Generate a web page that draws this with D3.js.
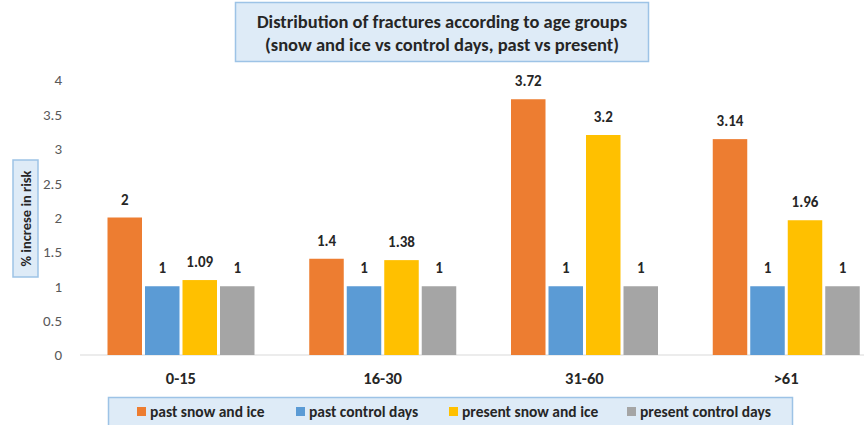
<!DOCTYPE html>
<html>
<head>
<meta charset="utf-8">
<script src="https://cdn.jsdelivr.net/npm/d3@7"></script>
<style>
  body { margin: 0; background: #fff; }
  svg { display: block; font-family: Carlito, Lato, "Open Sans", sans-serif; }
</style>
</head>
<body>
<script>
// data
const ageGroups = ["0-15", "16-30", "31-60", ">61"];
const seriesNames = ["past snow and ice", "past control days", "present snow and ice", "present control days"];
const pastSnowIce = [2, 1.4, 3.72, 3.14];
const pastControl = [1, 1, 1, 1];
const presentSnowIce = [1.09, 1.38, 3.2, 1.96];
const presentControl = [1, 1, 1, 1];
const yTicks = [0, 0.5, 1, 1.5, 2, 2.5, 3, 3.5, 4];
const colors = ["#ED7D31", "#5B9BD5", "#FFC000", "#A5A5A5"];

const allSeries = [pastSnowIce, pastControl, presentSnowIce, presentControl];

const width = 864, height = 425;
const svg = d3.select("body").append("svg")
  .attr("width", width).attr("height", height);

// scales
const x0 = d3.scaleBand().domain(ageGroups).range([80, 887]).paddingInner(0).paddingOuter(0);
const x1 = d3.scaleBand().domain(d3.range(4)).range([27.5, 174.5]).paddingInner(0.08);
const y = d3.scaleLinear().domain([0, 4]).range([355, 80]);

// y tick labels
svg.append("g").selectAll("text").data(yTicks).enter().append("text")
  .attr("x", 62).attr("y", d => y(d)).attr("dy", "0.36em")
  .attr("text-anchor", "end").attr("font-size", 15).attr("fill", "#595959")
  .text(d => d);

// baseline
svg.append("line")
  .attr("x1", 80).attr("x2", 887).attr("y1", y(0)).attr("y2", y(0))
  .attr("stroke", "#D9D9D9").attr("stroke-width", 1);

// bars
const groups = svg.append("g").selectAll("g").data(ageGroups).enter().append("g")
  .attr("transform", d => "translate(" + x0(d) + ",0)");

groups.selectAll("rect").data((d, i) => allSeries.map((s, k) => ({ k: k, v: s[i] })))
  .enter().append("rect")
  .attr("x", d => x1(d.k)).attr("width", x1.bandwidth())
  .attr("y", d => y(d.v)).attr("height", d => y(0) - y(d.v))
  .attr("fill", d => colors[d.k]);

groups.selectAll("text.val").data((d, i) => allSeries.map((s, k) => ({ k: k, v: s[i] })))
  .enter().append("text").attr("class", "val")
  .attr("x", d => x1(d.k) + x1.bandwidth() / 2).attr("y", d => y(d.v) - 13)
  .attr("text-anchor", "middle").attr("font-size", 15).attr("font-weight", "bold")
  .attr("fill", "#262626").text(d => d.v);

// category labels
svg.append("g").selectAll("text").data(ageGroups).enter().append("text")
  .attr("x", d => x0(d) + x0.bandwidth() / 2).attr("y", 384)
  .attr("text-anchor", "middle").attr("font-size", 16.5).attr("font-weight", "bold")
  .attr("fill", "#262626").text(d => d);

// title
svg.append("rect").attr("x", 235.5).attr("y", 2.5).attr("width", 413).attr("height", 59)
  .attr("fill", "#DEEBF7").attr("stroke", "#9DC3E6").attr("stroke-width", 1.5);
const title = svg.append("text").attr("text-anchor", "middle").attr("font-size", 18.5)
  .attr("font-weight", "bold").attr("fill", "#262626");
title.append("tspan").attr("x", 442).attr("y", 28).text("Distribution of fractures according to age groups");
title.append("tspan").attr("x", 442).attr("y", 51).text("(snow and ice vs control days, past vs present)");

// y axis title
svg.append("rect").attr("x", 13).attr("y", 160).attr("width", 25).attr("height", 117)
  .attr("fill", "#DEEBF7").attr("stroke", "#9DC3E6").attr("stroke-width", 1.5);
svg.append("text").attr("transform", "translate(30.5,218.5) rotate(-90)")
  .attr("text-anchor", "middle").attr("font-size", 14.5).attr("font-weight", "bold")
  .attr("fill", "#262626").text("% increse in risk");

// legend
svg.append("rect").attr("x", 108.5).attr("y", 397.5).attr("width", 684).attr("height", 34)
  .attr("fill", "#DEEBF7").attr("stroke", "#9DC3E6").attr("stroke-width", 1.5);
const legendX = [137, 296, 449, 627];
const leg = svg.append("g").selectAll("g").data(seriesNames).enter().append("g")
  .attr("transform", (d, i) => "translate(" + legendX[i] + ",412)");
leg.append("rect").attr("x", 0).attr("y", -5).attr("width", 9).attr("height", 9)
  .attr("fill", (d, i) => colors[i]);
leg.append("text").attr("x", 13).attr("y", 0).attr("dy", "0.35em")
  .attr("font-size", 15.5).attr("font-weight", "bold").attr("fill", "#262626").text(d => d);
</script>
</body>
</html>
